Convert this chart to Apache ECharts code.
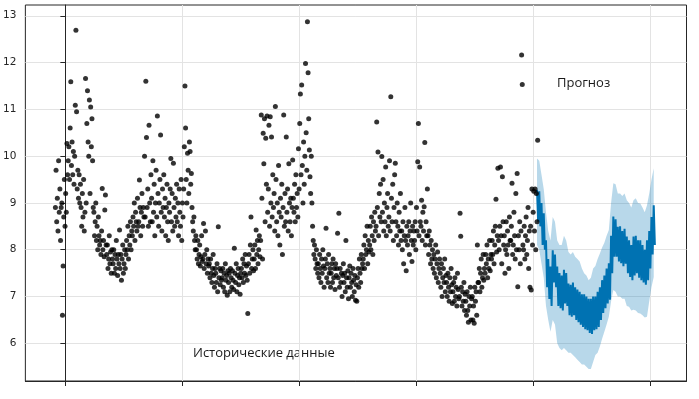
<!DOCTYPE html>
<html>
<head>
<meta charset="utf-8">
<script src="https://cdn.jsdelivr.net/npm/echarts@6/dist/echarts.min.js"></script>
<style>html,body{margin:0;padding:0;background:#fff}#c{width:699px;height:399px}</style>
</head>
<body>
<div id="c"></div>
<script>
// ---- data ----
const histStartDay = -31;     // day of first observation (day 0 = first x tick)
const histStepDays = 2;
const histValues = [
8.9,9.7,8.6,9.1,8.4,9.9,8.8,9.3,8.2,8.9,
9.0,6.6,7.65,8.7,9.5,8.5,9.2,8.8,10.27,9.6,
9.9,10.2,9.5,10.6,11.59,9.8,10.3,9.6,10.1,9.4,
10.0,11.09,12.69,10.95,9.3,9.7,9.1,9.6,9.0,9.4,
8.9,8.5,9.2,8.7,9.5,8.4,8.8,11.66,9.0,10.7,
11.4,10.3,10.0,11.2,9.2,11.05,10.2,10.8,9.9,8.9,
8.8,8.3,8.6,9.0,8.2,8.5,8.0,8.7,8.3,8.1,
8.2,7.9,8.4,9.31,8.0,8.2,7.85,8.85,9.17,8.1,
7.9,8.1,7.6,7.8,8.3,7.7,7.95,7.5,8.0,7.8,
7.7,8.0,7.5,7.9,7.6,8.2,7.8,7.45,7.9,7.7,
8.42,7.6,7.9,7.35,7.8,8.1,7.5,7.7,8.0,7.6,
7.9,8.2,8.0,8.5,7.8,8.3,8.1,8.6,8.0,8.4,
8.3,8.7,8.5,9.0,8.2,8.8,8.6,8.4,9.1,8.5,
8.6,9.49,8.9,8.3,8.8,9.2,8.5,8.9,8.7,10.0,
8.7,11.6,10.4,8.9,9.3,8.5,10.66,9.0,8.6,9.6,
9.1,8.6,9.9,8.8,9.4,8.3,9.0,9.7,8.7,10.86,
9.2,8.5,9.0,9.5,10.45,8.8,8.4,9.3,8.9,9.6,
8.7,9.1,8.3,8.9,9.4,8.6,8.2,9.0,8.8,9.3,
9.95,8.6,9.2,8.4,9.85,8.9,8.5,9.1,8.7,9.4,
8.6,9.0,8.3,9.3,8.8,8.5,9.5,8.2,9.0,8.7,
9.3,10.2,11.5,10.6,9.5,9.0,10.06,9.7,9.2,10.3,
10.1,9.4,9.63,8.9,8.6,8.4,8.7,8.2,8.0,8.3,
8.0,7.8,8.2,7.7,7.9,8.1,7.65,7.85,8.3,7.75,
7.8,8.56,7.6,7.9,8.4,7.7,8.0,7.5,7.8,7.65,
7.7,7.4,7.8,7.5,7.3,7.6,7.9,7.45,7.2,7.6,
7.5,7.3,7.7,7.1,8.49,7.4,7.6,7.25,7.55,7.35,
7.4,7.6,7.2,7.5,7.1,7.7,7.35,7.45,7.03,7.55,
7.3,7.5,7.1,7.6,7.4,7.2,7.55,7.35,7.15,8.03,
7.5,7.3,7.7,7.1,7.45,7.6,7.25,7.4,7.05,7.5,
7.6,7.4,7.8,7.3,7.7,7.5,7.9,7.45,7.65,7.35,
6.64,7.7,7.9,7.5,8.1,8.7,7.6,7.8,8.0,7.55,
7.8,8.1,7.6,8.42,7.9,8.2,7.7,8.0,8.3,7.85,
8.2,10.88,9.1,7.8,10.49,9.84,10.8,8.6,10.38,9.4,
10.86,8.8,9.3,10.66,8.5,10.84,9.0,10.41,8.7,9.6,
8.9,9.2,8.4,11.06,9.5,8.6,9.0,8.3,9.8,8.8,
8.1,9.1,8.7,9.4,7.9,8.9,10.88,8.5,9.2,8.6,
10.41,8.8,9.3,8.4,9.84,9.0,8.6,9.1,8.3,8.9,
9.92,9.1,8.8,9.4,8.6,9.6,8.9,9.2,8.7,10.16,
9.3,10.7,11.33,9.6,11.52,9.8,9.0,10.3,9.4,10.0,
11.98,10.5,9.7,12.87,11.78,10.8,10.13,9.56,9.2,10.0,
9.0,8.5,8.2,7.9,8.1,7.8,7.6,8.0,7.7,7.5,
7.7,7.4,7.9,7.6,7.3,7.8,7.5,8.0,7.65,7.2,
7.6,7.8,8.46,7.4,7.7,7.3,7.9,7.5,7.6,7.2,
7.5,7.7,7.3,7.8,7.4,7.6,7.15,7.7,7.45,7.6,
8.35,7.4,8.78,7.2,7.6,7.3,7.5,7.0,7.45,7.7,
7.3,7.5,7.1,8.2,7.4,7.2,7.55,6.95,7.4,7.65,
7.2,7.5,7.3,7.0,7.6,7.35,7.1,7.45,6.92,7.25,
6.9,7.4,7.6,7.2,7.8,7.5,7.3,7.9,7.6,7.7,
7.8,8.1,7.6,8.3,7.9,8.0,8.5,7.7,8.2,7.95,
8.1,8.5,8.0,8.7,8.3,7.9,8.6,8.2,8.8,8.4,
8.5,10.73,8.9,10.09,8.3,9.2,8.7,9.4,8.6,9.99,
8.8,9.5,8.4,9.0,8.6,9.77,8.3,8.9,9.2,8.5,
8.7,9.9,8.4,11.27,9.1,8.6,9.4,8.2,8.9,9.6,
9.85,8.6,8.3,9.0,8.5,8.1,8.8,8.4,9.2,8.2,
8.4,8.0,8.6,7.7,8.3,8.9,8.2,7.55,8.5,8.1,
8.3,8.6,7.9,8.4,9.0,8.2,7.75,8.5,8.1,8.4,
8.2,8.6,8.0,8.9,8.4,9.88,10.7,8.3,9.77,8.6,
8.5,9.06,8.2,8.8,8.4,8.92,10.29,8.1,8.6,8.3,
9.3,8.3,7.9,8.4,8.1,7.7,8.2,7.8,8.0,7.6,
7.9,7.5,7.8,8.1,7.4,7.7,7.95,7.3,7.6,7.8,
7.5,7.2,7.7,7.0,7.4,7.6,7.3,7.8,7.1,7.45,
7.3,7.0,7.5,7.2,6.9,7.4,7.1,7.6,7.25,6.85,
7.1,7.3,6.9,7.4,7.0,7.2,6.8,7.5,7.15,6.95,
7.0,8.78,8.29,7.2,6.8,7.1,6.9,7.3,6.7,7.05,
6.9,6.6,7.1,6.7,6.45,7.0,6.8,7.2,6.5,6.95,
7.0,6.5,6.8,6.43,7.2,6.9,7.1,6.6,8.1,7.3,
7.3,7.6,7.1,7.5,7.8,7.2,7.4,7.9,7.35,7.6,
7.5,7.9,7.7,8.1,7.4,7.8,7.6,8.2,7.55,7.9,
7.8,8.2,7.9,8.4,7.7,8.1,8.5,9.08,7.95,8.3,
9.74,8.2,8.0,8.5,9.77,8.3,7.7,9.56,8.6,8.1,
8.3,7.5,8.0,8.6,7.9,8.4,8.1,7.6,8.7,8.2,
8.2,8.5,9.42,7.9,8.1,8.8,8.3,7.8,9.2,8.0,
9.63,7.21,8.3,8.0,8.6,7.7,8.4,12.16,11.53,8.1,
8.0,8.5,7.8,8.3,8.7,7.9,8.2,8.9,7.6,8.4,
7.2,8.5,7.14,9.3,8.1,8.8,9.25,8.4,9.3,8.0,
9.2,8.6,10.34
];

const fcStartDay = 1471;      // first forecast day
const fcWeekDays = 7;
// weekly top / bottom of the forecast line
const fcWeekHigh = [9.28,9.25,9.0,8.78,8.2,7.8,7.64,7.99,7.9,7.64,7.5,7.45,7.57,7.5,7.28,7.25,7.3,7.2,7.15,7.1,7.05,7.05,7.0,6.95,6.95,7.0,7.0,7.1,7.2,7.35,7.45,7.6,7.71,8.3,8.71,8.65,8.49,8.5,8.4,8.45,8.28,8.2,8.1,8.28,8.3,8.2,8.2,8.1,8.0,8.2,8.4,8.7,8.95];
const fcWeekLow  = [8.6,8.5,8.1,8.0,7.2,6.95,6.8,7.3,7.2,6.8,6.75,6.7,6.85,6.8,6.6,6.57,6.6,6.5,6.45,6.4,6.35,6.3,6.28,6.22,6.2,6.28,6.3,6.35,6.5,6.65,6.75,6.85,6.93,7.5,7.85,7.85,7.75,7.71,7.65,7.7,7.5,7.42,7.35,7.45,7.5,7.4,7.35,7.3,7.25,7.35,7.6,7.9,8.1];
// uncertainty interval
const bandUpper = [9.95,9.9,9.6,9.3,8.8,8.4,8.2,8.7,8.6,8.2,8.1,8.1,8.3,8.2,7.95,7.9,7.95,7.85,7.8,7.75,7.6,7.5,7.45,7.35,7.4,7.6,7.65,7.8,7.92,8.05,8.15,8.3,8.42,9.0,9.42,9.4,9.2,9.2,9.15,9.2,9.06,9.0,8.9,9.06,9.1,9.0,8.99,8.9,8.8,8.95,9.2,9.5,9.74];
const bandLower = [8.1,8.0,7.7,7.4,6.8,6.5,6.25,6.5,6.4,6.0,5.9,5.85,5.9,5.85,5.8,5.8,5.75,5.7,5.65,5.6,5.55,5.55,5.5,5.45,5.45,5.6,5.75,5.8,5.93,6.1,6.25,6.4,6.57,6.9,7.14,7.1,7.0,7.0,6.95,6.95,6.8,6.78,6.7,6.72,6.7,6.65,6.64,6.6,6.55,6.57,6.9,7.2,7.42];

const yTickValues = [6,7,8,9,10,11,12,13];
const xTickDays = [0,365,730,1095,1460,1825];

const labelHistory = 'Исторические данные';
const labelForecast = 'Прогноз';

// ---- build series data ----
const histData = histValues.map((v, i) => [histStartDay + i * histStepDays, v]);
const fcLine = [];
fcWeekHigh.forEach((hi, w) => {
  const d = fcStartDay + w * fcWeekDays;
  fcLine.push([d, hi]);
  fcLine.push([d + fcWeekDays / 2, fcWeekLow[w]]);
});
const bandData = bandUpper.map((up, w) => [fcStartDay + w * fcWeekDays, bandLower[w], up]);

const chart = echarts.init(document.getElementById('c'), null, {renderer: 'canvas'});
const axisColor = '#262626';
const gridColor = '#e3e3e3';
chart.setOption({
  animation: false,
  backgroundColor: '#fff',
  grid: {left: 25, right: 12.5, top: 5, bottom: 18, show: true, borderColor: axisColor, borderWidth: 1},
  xAxis: {
    type: 'value', min: -124.7, max: 1937.2,
    axisLine: {show: true, lineStyle: {color: axisColor}},
    axisTick: {show: true, customValues: xTickDays, length: 5, lineStyle: {color: axisColor}},
    axisLabel: {show: false},
    splitLine: {show: true, lineStyle: {color: gridColor, width: 1}}
  },
  yAxis: {
    type: 'value', min: 5.195, max: 13.23,
    axisLine: {show: true, lineStyle: {color: axisColor}},
    axisTick: {show: true, customValues: yTickValues, length: 5, lineStyle: {color: axisColor}},
    axisLabel: {show: true, customValues: yTickValues, margin: 9, color: '#262626', fontSize: 10.5, fontFamily: 'DejaVu Sans', formatter: v => String(Math.round(v))},
    splitLine: {show: true, lineStyle: {color: gridColor, width: 1}}
  },
  series: [
    {
      type: 'custom', coordinateSystem: 'cartesian2d', silent: true, z: 1,
      data: [bandData[0]],
      encode: {x: 0, y: 2},
      renderItem: function (params, api) {
        const pts = [];
        for (let w = 0; w < bandData.length; w++) pts.push(api.coord([bandData[w][0], bandData[w][2]]));
        for (let w = bandData.length - 1; w >= 0; w--) pts.push(api.coord([bandData[w][0], bandData[w][1]]));
        return {type: 'polygon', shape: {points: pts}, style: {fill: 'rgba(0,114,178,0.28)'}};
      }
    },
    {type: 'line', data: fcLine, symbol: 'none', silent: true, lineStyle: {color: '#0072B2', width: 2}, z: 2},
    {type: 'scatter', data: histData, symbolSize: 5, itemStyle: {color: '#000'}, silent: true, z: 3}
  ],
  graphic: [
    {type: 'text', left: 193, top: 347, style: {text: labelHistory, font: '13px "Open Sans"', fill: '#1a1a1a'}},
    {type: 'text', left: 557, top: 77, style: {text: labelForecast, font: '13px "Open Sans"', fill: '#1a1a1a'}}
  ]
});
</script>
</body>
</html>
